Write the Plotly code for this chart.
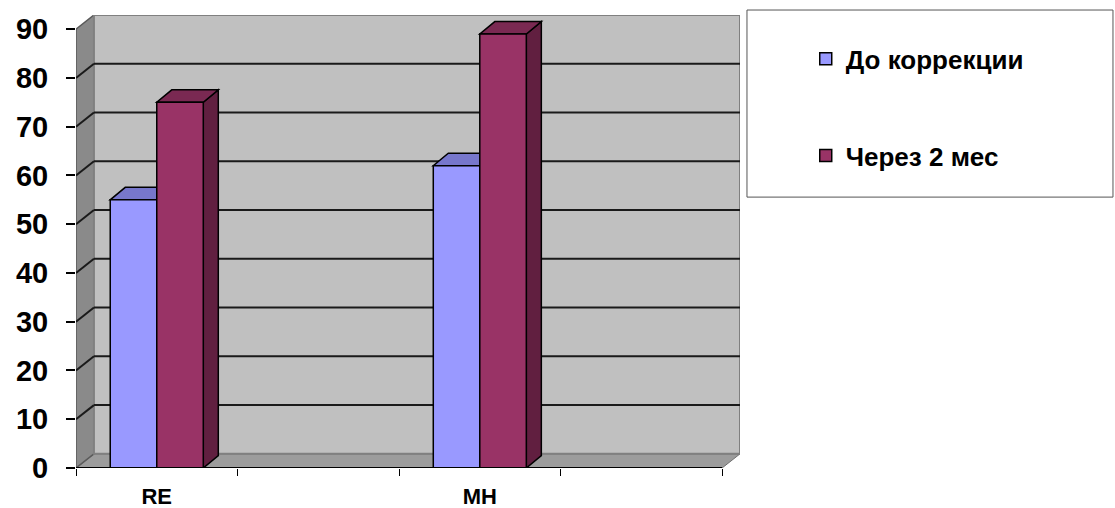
import plotly.graph_objects as go

# ---- data ----
categories = ["RE", "", "MH", ""]
series_names = ["До коррекции", "Через 2 мес"]
before_values = [55, None, 62, None]
after_values = [75, None, 89, None]
y_ticks = [0, 10, 20, 30, 40, 50, 60, 70, 80, 90]

# ---- style ----
FONT = "Liberation Sans, Arial, sans-serif"
front_colors = ["#9999FF", "#993366"]
top_colors = ["#7777CC", "#7A2952"]
side_colors = ["#5C5CA3", "#611F40"]
BAR_W = 0.288            # width of one bar (category units)
BAR_DX, BAR_DY = 0.093, 2.55    # projected depth of a bar
WALL_DX, WALL_DY = 0.111, 2.9   # projected depth of the walls
Y_MAX = y_ticks[-1]
x_pos = list(range(len(categories)))
X_LO, X_HI = x_pos[0] - 0.5, x_pos[-1] + 0.5
boundaries = [X_LO + i for i in range(len(categories) + 1)]


def poly(points):
    return "M " + " L ".join(f"{x},{y}" for x, y in points) + " Z"


shapes = []
# floor
shapes.append(dict(type="path", layer="below",
                   path=poly([(X_LO, 0), (X_HI, 0), (X_HI + WALL_DX, WALL_DY), (X_LO + WALL_DX, WALL_DY)]),
                   fillcolor="#9C9C9C", line=dict(color="#6E6E6E", width=1)))
# left wall
shapes.append(dict(type="path", layer="below",
                   path=poly([(X_LO, 0), (X_LO, Y_MAX), (X_LO + WALL_DX, Y_MAX + WALL_DY), (X_LO + WALL_DX, WALL_DY)]),
                   fillcolor="#8A8A8A", line=dict(color="#5A5A5A", width=1.5)))
# back wall
shapes.append(dict(type="rect", layer="below",
                   x0=X_LO + WALL_DX, x1=X_HI + WALL_DX, y0=WALL_DY, y1=Y_MAX + WALL_DY,
                   fillcolor="#C0C0C0", line=dict(color="#808080", width=2)))
# gridlines on back and left walls
for t in y_ticks[1:-1]:
    shapes.append(dict(type="line", layer="below", x0=X_LO + WALL_DX, x1=X_HI + WALL_DX,
                       y0=t + WALL_DY, y1=t + WALL_DY, line=dict(color="#1A1A1A", width=2)))
    shapes.append(dict(type="line", layer="below", x0=X_LO, x1=X_LO + WALL_DX,
                       y0=t, y1=t + WALL_DY, line=dict(color="#1A1A1A", width=2)))

# 3D tops and sides of the bars
for s, values in enumerate([before_values, after_values]):
    for i, v in zip(x_pos, values):
        if v is None:
            continue
        x0 = i - BAR_W + s * BAR_W
        x1 = x0 + BAR_W
        shapes.append(dict(type="path", layer="below",
                           path=poly([(x1, 0), (x1, v), (x1 + BAR_DX, v + BAR_DY), (x1 + BAR_DX, BAR_DY)]),
                           fillcolor=side_colors[s], line=dict(color="black", width=1.5)))
        shapes.append(dict(type="path", layer="below",
                           path=poly([(x0, v), (x1, v), (x1 + BAR_DX, v + BAR_DY), (x0 + BAR_DX, v + BAR_DY)]),
                           fillcolor=top_colors[s], line=dict(color="black", width=1.5)))

# front edge of the floor
shapes.append(dict(type="line", layer="above", x0=X_LO, x1=X_HI, y0=0, y1=0,
                   line=dict(color="black", width=2)))

# legend frame
shapes.append(dict(type="rect", xref="paper", yref="paper",
                   x0=1.0105, x1=1.5617, y0=0.598, y1=1.011,
                   line=dict(color="#555555", width=1), fillcolor="rgba(0,0,0,0)"))

fig = go.Figure()
for s, values in enumerate([before_values, after_values]):
    fig.add_trace(go.Bar(
        x=x_pos, y=values, name=series_names[s], legendgroup=series_names[s],
        width=BAR_W, offset=-BAR_W + s * BAR_W,
        marker=dict(color=front_colors[s], line=dict(color="black", width=1.5)),
    ))

fig.update_layout(
    width=1115, height=508, autosize=False,
    margin=dict(l=76, r=375, t=15, b=40),
    paper_bgcolor="white", plot_bgcolor="white",
    font=dict(family=FONT, color="black"),
    barmode="overlay",
    shapes=shapes,
    showlegend=True,
    legend=dict(x=1.099, y=0.955, xanchor="left", yanchor="top",
                traceorder="grouped", tracegroupgap=60,
                font=dict(size=26, weight="bold", family=FONT),
                bgcolor="rgba(0,0,0,0)", borderwidth=0),
    xaxis=dict(range=[X_LO, X_HI + WALL_DX], tickmode="array", tickvals=x_pos, ticktext=categories,
               ticks="", showgrid=False, zeroline=False, showline=False, automargin=False,
               tickfont=dict(size=22, weight="bold", family=FONT), ticklabelstandoff=13,
               minor=dict(tickmode="array", tickvals=boundaries, ticks="outside",
                          ticklen=7, tickwidth=1.2, tickcolor="black", showgrid=False)),
    yaxis=dict(range=[0, Y_MAX + WALL_DY], tickmode="array", tickvals=y_ticks,
               ticks="outside", ticklen=9, tickwidth=1.5, tickcolor="black", automargin=False,
               showgrid=False, zeroline=False, showline=False,
               tickfont=dict(size=29, weight="bold", family=FONT), ticklabelstandoff=12),
)

fig.write_html("out.html")
